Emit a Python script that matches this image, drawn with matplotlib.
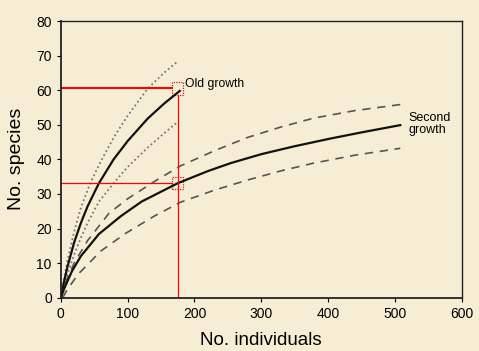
import matplotlib.pyplot as plt
from matplotlib.patches import Rectangle

plt.rcParams['font.family'] = ['Liberation Sans', 'DejaVu Sans']

# old growth rarefaction curve and its bounds
old_x = [0, 5, 10, 20, 30, 40, 57, 79, 100, 130, 155, 178]
old_y = [0, 4.8, 9.0, 16.0, 21.6, 26.4, 33.1, 40.0, 45.3, 51.8, 56.2, 59.8]
old_up_x = [0, 5, 10, 20, 30, 44, 60, 80, 100, 130, 155, 174]
old_up = [0, 5.8, 10.8, 19.2, 26.0, 33.1, 39.5, 46.6, 52.6, 60.5, 65.1, 68.2]
old_lo_x = [0, 5, 10, 20, 30, 40, 57, 79, 100, 130, 155, 174]
old_lo = [0, 3.5, 6.8, 12.5, 17.3, 21.6, 27.8, 33.1, 37.8, 43.4, 47.6, 50.7]

# second growth curve and its bounds
sec_x = [0, 5, 10, 17, 30, 57, 90, 121, 175, 220, 254, 300, 350, 403, 450, 508]
sec_y = [0, 2.6, 4.8, 7.8, 12.0, 18.4, 23.6, 27.8, 33.1, 36.6, 38.9, 41.5,
         43.8, 46.0, 47.8, 49.9]
sec_up_x = [0, 5, 10, 20, 40, 72, 100, 140, 179, 230, 279, 330, 378, 440, 510]
sec_up = [0, 3.2, 5.8, 10.0, 16.5, 24.4, 28.6, 33.6, 38.1, 42.5, 46.3, 49.4,
          51.9, 54.1, 55.9]
sec_lo_x = [3, 10, 27, 60, 97, 140, 179, 230, 279, 330, 378, 440, 508]
sec_lo = [0, 2.5, 7.0, 13.5, 18.6, 23.6, 27.6, 31.1, 34.0, 36.7, 38.9, 41.2,
          43.2]

# red reference lines at the old growth sample size
ref_n = 175
ref_old = 60.5
ref_sec = 33.1

bg = '#f5eed5'
fig = plt.figure(figsize=(4.79, 3.51), dpi=100, facecolor=bg)
ax = fig.add_axes([0.127, 0.152, 0.837, 0.788], facecolor=bg)

ax.plot(old_up_x, old_up, color='#777777', ls=(0, (1, 1.5)), lw=1.3)
ax.plot(old_lo_x, old_lo, color='#777777', ls=(0, (1, 1.5)), lw=1.3)
ax.plot(old_x, old_y, color='#111111', lw=1.6)

ax.plot(sec_up_x, sec_up, color='#555555', ls=(0, (5, 4)), lw=1.2)
ax.plot(sec_lo_x, sec_lo, color='#555555', ls=(0, (5, 4)), lw=1.2)
ax.plot(sec_x, sec_y, color='#111111', lw=1.6)

bw, bh = 17, 3.5
ax.plot([0, ref_n - bw / 2], [ref_old, ref_old], color='red', lw=1.5)
ax.plot([0, ref_n - bw / 2], [ref_sec, ref_sec], color='red', lw=0.9)
ax.plot([ref_n, ref_n], [0, ref_old - bh / 2], color='red', lw=0.9)
for yy in (ref_old, ref_sec):
    ax.add_patch(Rectangle((ref_n - bw / 2, yy - bh / 2), bw, bh, fill=False,
                           edgecolor='#cc2222', ls=(0, (1, 1)), lw=0.9))

ax.text(186, 61.8, 'Old growth', fontsize=8.7, va='center', ha='left')
ax.text(520, 50.2, 'Second\ngrowth', fontsize=9, va='center', ha='left',
        linespacing=1.0)

ax.set_xlim(0, 600)
ax.set_ylim(0, 80)
ax.set_xticks(range(0, 601, 100))
ax.set_yticks(range(0, 81, 10))
ax.tick_params(labelsize=10, length=3, width=0.8, direction='out')
for s in ax.spines.values():
    s.set_color('#222222')
    s.set_linewidth(1.0)
ax.spines['left'].set_linewidth(1.3)
ax.spines['bottom'].set_linewidth(1.3)

ax.set_xlabel('No. individuals', fontsize=13.5, labelpad=8)
ax.set_ylabel('No. species', fontsize=14, labelpad=8)

fig.savefig('out.png', dpi=100, facecolor=bg)
